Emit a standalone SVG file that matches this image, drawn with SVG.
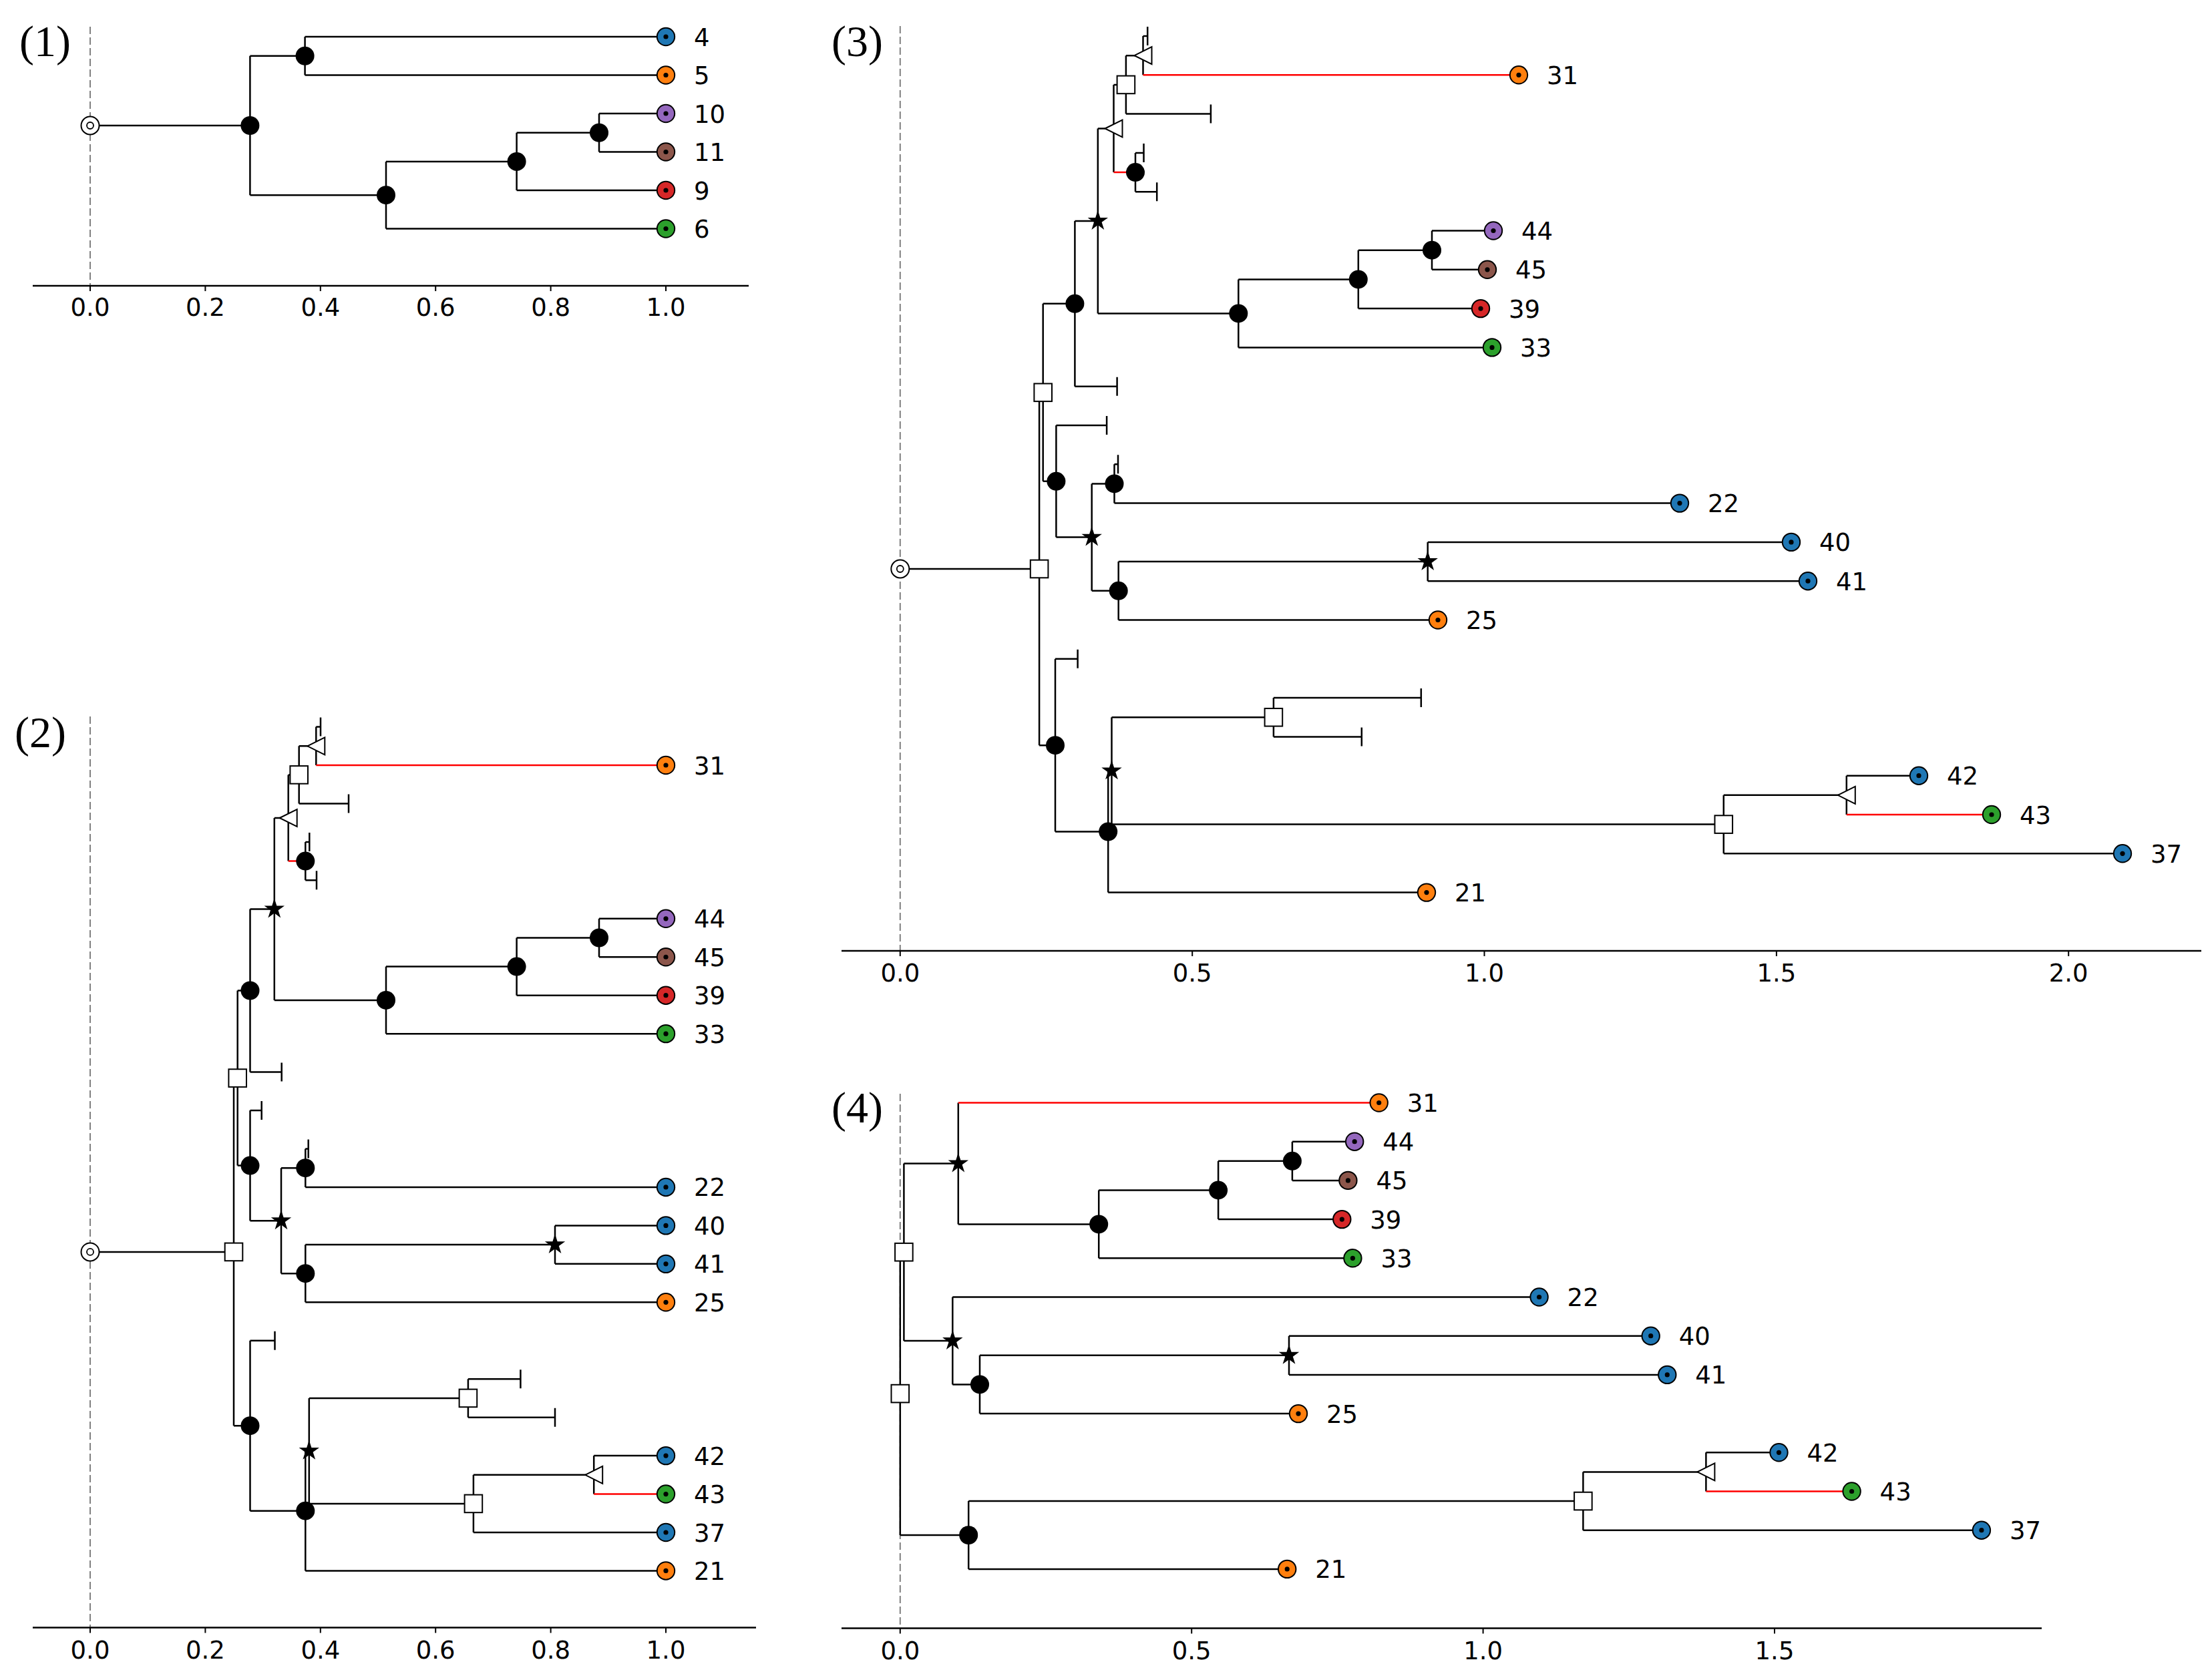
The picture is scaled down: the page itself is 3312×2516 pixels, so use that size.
<svg xmlns="http://www.w3.org/2000/svg" xmlns:xlink="http://www.w3.org/1999/xlink" width="3312" height="2516" viewBox="0 0 3312 2516">
<style>
.e{fill:none;stroke:#000;stroke-width:2.5}
.r{fill:none;stroke:#ff0000;stroke-width:2.5}
.dash{fill:none;stroke:#808080;stroke-width:2;stroke-dasharray:11 5}
.ax{fill:none;stroke:#000;stroke-width:2.5}
.tk{fill:none;stroke:#000;stroke-width:2}
.tl{font-family:"DejaVu Sans",sans-serif;font-size:37px;text-anchor:middle;fill:#000}
.lb{font-family:"DejaVu Sans",sans-serif;font-size:37px;fill:#000}
.pn{font-family:"Liberation Serif","Times New Roman",serif;font-size:66px;fill:#000}
</style>
<defs>
<circle id="dot" r="14" fill="#000"/>
<rect id="sq" x="-13.3" y="-13.3" width="26.6" height="26.6" fill="#fff" stroke="#000" stroke-width="2"/>
<polygon id="tri" points="-13,0 13,-13 13,13" fill="#fff" stroke="#000" stroke-width="2"/>
<path id="star" d="M0,-16L3.6,-4.94L15.22,-4.94L5.81,1.89L9.4,12.94L0,6.11L-9.4,12.94L-5.81,1.89L-15.22,-4.94L-3.6,-4.94Z" fill="#000"/>
<g id="root"><circle r="13.5" fill="#fff" stroke="#000" stroke-width="2"/><circle r="5" fill="#fff" stroke="#000" stroke-width="1.8"/></g>
<g id="leaf"><circle r="13.2" stroke="#000" stroke-width="2"/><circle r="3.6" fill="#000"/></g>
</defs>
<rect width="3312" height="2516" fill="#fff"/>

<!-- ========== PANEL 1 ========== -->
<g id="panel1">
<text class="pn" x="29" y="84">(1)</text>
<line class="dash" x1="135" y1="40" x2="135" y2="428"/>
<g id="p1-axis">
<line class="ax" x1="49" y1="428" x2="1121" y2="428"/>
<path class="tk" d="M135,428v8M307.4,428v8M479.8,428v8M652.2,428v8M824.6,428v8M997,428v8"/>
<text class="tl" x="135" y="473">0.0</text><text class="tl" x="307.4" y="473">0.2</text><text class="tl" x="479.8" y="473">0.4</text><text class="tl" x="652.2" y="473">0.6</text><text class="tl" x="824.6" y="473">0.8</text><text class="tl" x="997" y="473">1.0</text>
</g>
<g id="p1-edges">
<path class="e" d="M135,188H374.4M374.4,83.75V292.2M374.4,83.75H456.6M374.4,292.2H578M456.6,55V112.5M456.6,55H997M456.6,112.5H997M578,241.9V342.5M578,241.9H773.6M578,342.5H997M773.6,198.75V285M773.6,198.75H897M773.6,285H997M897,170V227.5M897,170H997M897,227.5H997"/>
</g>
<g id="p1-root"><use xlink:href="#root" x="135" y="188"/></g>
<g id="p1-n1"><use xlink:href="#dot" x="374.4" y="188"/></g>
<g id="p1-n2"><use xlink:href="#dot" x="456.6" y="83.75"/></g>
<g id="p1-n3"><use xlink:href="#dot" x="578" y="292.2"/></g>
<g id="p1-n4"><use xlink:href="#dot" x="773.6" y="241.9"/></g>
<g id="p1-n5"><use xlink:href="#dot" x="897" y="198.75"/></g>
<g id="p1-leaf4"><use xlink:href="#leaf" x="997" y="55" fill="#1f77b4"/><text class="lb" x="1039" y="68.5">4</text></g>
<g id="p1-leaf5"><use xlink:href="#leaf" x="997" y="112.5" fill="#ff7f0e"/><text class="lb" x="1039" y="126">5</text></g>
<g id="p1-leaf10"><use xlink:href="#leaf" x="997" y="170" fill="#9467bd"/><text class="lb" x="1039" y="183.5">10</text></g>
<g id="p1-leaf11"><use xlink:href="#leaf" x="997" y="227.5" fill="#8c564b"/><text class="lb" x="1039" y="241">11</text></g>
<g id="p1-leaf9"><use xlink:href="#leaf" x="997" y="285" fill="#d62728"/><text class="lb" x="1039" y="298.5">9</text></g>
<g id="p1-leaf6"><use xlink:href="#leaf" x="997" y="342.5" fill="#2ca02c"/><text class="lb" x="1039" y="356">6</text></g>
</g>

<!-- ========== PANEL 2 ========== -->
<g id="panel2">
<text class="pn" x="22" y="1119">(2)</text>
<line class="dash" x1="135" y1="1073" x2="135" y2="2437.5"/>
<g id="p2-axis">
<line class="ax" x1="49" y1="2437.5" x2="1132" y2="2437.5"/>
<path class="tk" d="M135,2437.5v8M307.4,2437.5v8M479.8,2437.5v8M652.2,2437.5v8M824.6,2437.5v8M997,2437.5v8"/>
<text class="tl" x="135" y="2484">0.0</text><text class="tl" x="307.4" y="2484">0.2</text><text class="tl" x="479.8" y="2484">0.4</text><text class="tl" x="652.2" y="2484">0.6</text><text class="tl" x="824.6" y="2484">0.8</text><text class="tl" x="997" y="2484">1.0</text>
</g>
<g id="p2-edges">
<path class="e" d="M135,1874.9H350M350,1614.55V2135.2M350,1614.55H355.7M350,2135.2H374.5
M355.7,1483.5V1745.6M355.7,1483.5H374.5M355.7,1745.6H374.5
M374.5,1361.45V1605.6M374.5,1361.45H410.8M374.5,1605.6H421.7M421.7,1591.6V1619.6
M410.8,1225V1497.9M410.8,1225H431.7M410.8,1497.9H578
M431.7,1160.4V1289.6M431.7,1160.4H447.7
M447.7,1117.3V1203.45M447.7,1117.3H473.3M447.7,1203.45H522M522,1189.45V1217.45
M473.3,1088.55V1146M473.3,1088.55H480M480,1074.55V1102.55
M457.3,1260.9V1318.35M457.3,1260.9H463.3M463.3,1246.9V1274.9M457.3,1318.35H474M474,1304.35V1332.35
M578,1447.6V1548.15M578,1447.6H773.6M578,1548.15H997
M773.6,1404.5V1490.7M773.6,1404.5H897M773.6,1490.7H997
M897,1375.8V1433.25M897,1375.8H997M897,1433.25H997
M374.5,1663.05V1828.2M374.5,1663.05H391.7M391.7,1649.05V1677.05M374.5,1828.2H421
M421,1749.2V1907.2M421,1749.2H457.3M421,1907.2H457.3
M457.3,1720.5V1777.95M457.3,1720.5H461.7M461.7,1706.5V1734.5M457.3,1777.95H997
M457.3,1864.1V1950.3M457.3,1864.1H831M457.3,1950.3H997
M831,1835.4V1892.85M831,1835.4H997M831,1892.85H997
M374.5,2007.75V2262.7M374.5,2007.75H411.5M411.5,1993.75V2021.75M374.5,2262.7H457.3
M457.3,2172.9V2352.45M457.3,2172.9H462.8M457.3,2352.45H997
M462.8,2093.9V2251.9M462.8,2093.9H700.9M462.8,2251.9H708.9
M700.9,2065.2V2122.65M700.9,2065.2H779.4M779.4,2051.2V2079.2M700.9,2122.65H831M831,2108.65V2136.65
M708.9,2208.8V2295M708.9,2208.8H889.2M708.9,2295H997
M889.2,2180.1V2237.55M889.2,2180.1H997"/>
<path class="r" d="M431.7,1289.6H457.3M473.3,1146H997M889.2,2237.55H997"/>
</g>
<g id="p2-root"><use xlink:href="#root" x="135" y="1874.9"/></g>
<g id="p2-S1"><use xlink:href="#sq" x="350" y="1874.9"/></g>
<g id="p2-S2"><use xlink:href="#sq" x="355.7" y="1614.55"/></g>
<g id="p2-P"><use xlink:href="#dot" x="374.5" y="1483.5"/></g>
<g id="p2-St1"><use xlink:href="#star" x="410.8" y="1361.45"/></g>
<g id="p2-T1"><use xlink:href="#tri" x="431.7" y="1225"/></g>
<g id="p2-S3"><use xlink:href="#sq" x="447.7" y="1160.4"/></g>
<g id="p2-T2"><use xlink:href="#tri" x="473.3" y="1117.3"/></g>
<g id="p2-B2"><use xlink:href="#dot" x="457.3" y="1289.6"/></g>
<g id="p2-K"><use xlink:href="#dot" x="578" y="1497.9"/></g>
<g id="p2-K2"><use xlink:href="#dot" x="773.6" y="1447.6"/></g>
<g id="p2-K3"><use xlink:href="#dot" x="897" y="1404.5"/></g>
<g id="p2-Q"><use xlink:href="#dot" x="374.5" y="1745.6"/></g>
<g id="p2-St2"><use xlink:href="#star" x="421" y="1828.2"/></g>
<g id="p2-B3"><use xlink:href="#dot" x="457.3" y="1749.2"/></g>
<g id="p2-B4"><use xlink:href="#dot" x="457.3" y="1907.2"/></g>
<g id="p2-St3"><use xlink:href="#star" x="831" y="1864.1"/></g>
<g id="p2-L"><use xlink:href="#dot" x="374.5" y="2135.2"/></g>
<g id="p2-M"><use xlink:href="#dot" x="457.3" y="2262.7"/></g>
<g id="p2-St4"><use xlink:href="#star" x="462.8" y="2172.9"/></g>
<g id="p2-S4"><use xlink:href="#sq" x="700.9" y="2093.9"/></g>
<g id="p2-S5"><use xlink:href="#sq" x="708.9" y="2251.9"/></g>
<g id="p2-T3"><use xlink:href="#tri" x="889.2" y="2208.8"/></g>
<g id="p2-leaf31"><use xlink:href="#leaf" x="997" y="1146" fill="#ff7f0e"/><text class="lb" x="1039" y="1159.5">31</text></g>
<g id="p2-leaf44"><use xlink:href="#leaf" x="997" y="1375.8" fill="#9467bd"/><text class="lb" x="1039" y="1389.3">44</text></g>
<g id="p2-leaf45"><use xlink:href="#leaf" x="997" y="1433.25" fill="#8c564b"/><text class="lb" x="1039" y="1446.75">45</text></g>
<g id="p2-leaf39"><use xlink:href="#leaf" x="997" y="1490.7" fill="#d62728"/><text class="lb" x="1039" y="1504.2">39</text></g>
<g id="p2-leaf33"><use xlink:href="#leaf" x="997" y="1548.15" fill="#2ca02c"/><text class="lb" x="1039" y="1561.65">33</text></g>
<g id="p2-leaf22"><use xlink:href="#leaf" x="997" y="1777.95" fill="#1f77b4"/><text class="lb" x="1039" y="1791.45">22</text></g>
<g id="p2-leaf40"><use xlink:href="#leaf" x="997" y="1835.4" fill="#1f77b4"/><text class="lb" x="1039" y="1848.9">40</text></g>
<g id="p2-leaf41"><use xlink:href="#leaf" x="997" y="1892.85" fill="#1f77b4"/><text class="lb" x="1039" y="1906.35">41</text></g>
<g id="p2-leaf25"><use xlink:href="#leaf" x="997" y="1950.3" fill="#ff7f0e"/><text class="lb" x="1039" y="1963.8">25</text></g>
<g id="p2-leaf42"><use xlink:href="#leaf" x="997" y="2180.1" fill="#1f77b4"/><text class="lb" x="1039" y="2193.6">42</text></g>
<g id="p2-leaf43"><use xlink:href="#leaf" x="997" y="2237.55" fill="#2ca02c"/><text class="lb" x="1039" y="2251.05">43</text></g>
<g id="p2-leaf37"><use xlink:href="#leaf" x="997" y="2295" fill="#1f77b4"/><text class="lb" x="1039" y="2308.5">37</text></g>
<g id="p2-leaf21"><use xlink:href="#leaf" x="997" y="2352.45" fill="#ff7f0e"/><text class="lb" x="1039" y="2365.95">21</text></g>
</g>

<!-- ========== PANEL 3 ========== -->
<g id="panel3">
<text class="pn" x="1245" y="84">(3)</text>
<line class="dash" x1="1347.8" y1="39" x2="1347.8" y2="1424"/>
<g id="p3-axis">
<line class="ax" x1="1260" y1="1424" x2="3296" y2="1424"/>
<path class="tk" d="M1347.8,1424v8M1785.2,1424v8M2222.5,1424v8M2659.9,1424v8M3097.2,1424v8"/>
<text class="tl" x="1347.8" y="1470">0.0</text><text class="tl" x="1785.2" y="1470">0.5</text><text class="tl" x="2222.5" y="1470">1.0</text><text class="tl" x="2659.9" y="1470">1.5</text><text class="tl" x="3097.2" y="1470">2.0</text>
</g>
<g id="p3-edges">
<path class="e" d="M1347.8,852H1556.1M1556.1,587.8V1116.2M1556.1,587.8H1561.7M1556.1,1116.2H1580
M1561.7,454.8V720.8M1561.7,454.8H1609.4M1561.7,720.8H1581.4
M1609.4,330.95V578.7M1609.4,330.95H1643.8M1609.4,578.7H1672.6M1672.6,564.7V592.7
M1643.8,192.5V469.4M1643.8,192.5H1667.5M1643.8,469.4H1854.3
M1667.5,126.9V258.05M1667.5,126.9H1685.9
M1685.9,83.15V170.6M1685.9,83.15H1711.5M1685.9,170.6H1812.9M1812.9,156.6V184.6
M1711.5,54V112.3M1711.5,54H1718.2M1718.2,40V68
M1700,228.9V287.2M1700,228.9H1712.5M1712.5,214.9V242.9M1700,287.2H1732.2M1732.2,273.2V301.2
M1854.3,418.4V520.4M1854.3,418.4H2033.8M1854.3,520.4H2234
M2033.8,374.65V462.1M2033.8,374.65H2144M2033.8,462.1H2217
M2144,345.5V403.8M2144,345.5H2236M2144,403.8H2227
M1581.4,637V804.6M1581.4,637H1657.1M1657.1,623V651M1581.4,804.6H1634.7
M1634.7,724.45V884.8M1634.7,724.45H1668.5M1634.7,884.8H1674.7
M1668.5,695.3V753.6M1668.5,695.3H1674M1674,681.3V709.3M1668.5,753.6H2515
M1674.7,841.05V928.5M1674.7,841.05H2137.7M1674.7,928.5H2153
M2137.7,811.9V870.2M2137.7,811.9H2682M2137.7,870.2H2707
M1580,986.8V1245.5M1580,986.8H1613.6M1613.6,972.8V1000.8M1580,1245.5H1659.2
M1659.2,1154.4V1336.6M1659.2,1154.4H1664.5M1659.2,1336.6H2136
M1664.5,1074.25V1234.6M1664.5,1074.25H1906.9M1664.5,1234.6H2580.8
M1906.9,1045.1V1103.4M1906.9,1045.1H2127.8M2127.8,1031.1V1059.1M1906.9,1103.4H2038.8M2038.8,1089.4V1117.4
M2580.8,1190.85V1278.3M2580.8,1190.85H2764.8M2580.8,1278.3H3178
M2764.8,1161.7V1220M2764.8,1161.7H2873"/>
<path class="r" d="M1667.5,258.05H1700M1711.5,112.3H2274M2764.8,1220H2982"/>
</g>
<g id="p3-root"><use xlink:href="#root" x="1347.8" y="852"/></g>
<g id="p3-S1"><use xlink:href="#sq" x="1556.1" y="852"/></g>
<g id="p3-S2"><use xlink:href="#sq" x="1561.7" y="587.8"/></g>
<g id="p3-P"><use xlink:href="#dot" x="1609.4" y="454.8"/></g>
<g id="p3-St1"><use xlink:href="#star" x="1643.8" y="330.95"/></g>
<g id="p3-T1"><use xlink:href="#tri" x="1667.5" y="192.5"/></g>
<g id="p3-S3"><use xlink:href="#sq" x="1685.9" y="126.9"/></g>
<g id="p3-T2"><use xlink:href="#tri" x="1711.5" y="83.15"/></g>
<g id="p3-B2"><use xlink:href="#dot" x="1700" y="258.05"/></g>
<g id="p3-K"><use xlink:href="#dot" x="1854.3" y="469.4"/></g>
<g id="p3-K2"><use xlink:href="#dot" x="2033.8" y="418.4"/></g>
<g id="p3-K3"><use xlink:href="#dot" x="2144" y="374.65"/></g>
<g id="p3-Q"><use xlink:href="#dot" x="1581.4" y="720.8"/></g>
<g id="p3-St2"><use xlink:href="#star" x="1634.7" y="804.6"/></g>
<g id="p3-B3"><use xlink:href="#dot" x="1668.5" y="724.45"/></g>
<g id="p3-B4"><use xlink:href="#dot" x="1674.7" y="884.8"/></g>
<g id="p3-St3"><use xlink:href="#star" x="2137.7" y="841.05"/></g>
<g id="p3-L"><use xlink:href="#dot" x="1580" y="1116.2"/></g>
<g id="p3-M"><use xlink:href="#dot" x="1659.2" y="1245.5"/></g>
<g id="p3-St4"><use xlink:href="#star" x="1664.5" y="1154.4"/></g>
<g id="p3-S4"><use xlink:href="#sq" x="1906.9" y="1074.25"/></g>
<g id="p3-S5"><use xlink:href="#sq" x="2580.8" y="1234.6"/></g>
<g id="p3-T3"><use xlink:href="#tri" x="2764.8" y="1190.85"/></g>
<g id="p3-leaf31"><use xlink:href="#leaf" x="2274" y="112.3" fill="#ff7f0e"/><text class="lb" x="2316" y="125.8">31</text></g>
<g id="p3-leaf44"><use xlink:href="#leaf" x="2236" y="345.5" fill="#9467bd"/><text class="lb" x="2278" y="359">44</text></g>
<g id="p3-leaf45"><use xlink:href="#leaf" x="2227" y="403.8" fill="#8c564b"/><text class="lb" x="2269" y="417.3">45</text></g>
<g id="p3-leaf39"><use xlink:href="#leaf" x="2217" y="462.1" fill="#d62728"/><text class="lb" x="2259" y="475.6">39</text></g>
<g id="p3-leaf33"><use xlink:href="#leaf" x="2234" y="520.4" fill="#2ca02c"/><text class="lb" x="2276" y="533.9">33</text></g>
<g id="p3-leaf22"><use xlink:href="#leaf" x="2515" y="753.6" fill="#1f77b4"/><text class="lb" x="2557" y="767.1">22</text></g>
<g id="p3-leaf40"><use xlink:href="#leaf" x="2682" y="811.9" fill="#1f77b4"/><text class="lb" x="2724" y="825.4">40</text></g>
<g id="p3-leaf41"><use xlink:href="#leaf" x="2707" y="870.2" fill="#1f77b4"/><text class="lb" x="2749" y="883.7">41</text></g>
<g id="p3-leaf25"><use xlink:href="#leaf" x="2153" y="928.5" fill="#ff7f0e"/><text class="lb" x="2195" y="942">25</text></g>
<g id="p3-leaf42"><use xlink:href="#leaf" x="2873" y="1161.7" fill="#1f77b4"/><text class="lb" x="2915" y="1175.2">42</text></g>
<g id="p3-leaf43"><use xlink:href="#leaf" x="2982" y="1220" fill="#2ca02c"/><text class="lb" x="3024" y="1233.5">43</text></g>
<g id="p3-leaf37"><use xlink:href="#leaf" x="3178" y="1278.3" fill="#1f77b4"/><text class="lb" x="3220" y="1291.8">37</text></g>
<g id="p3-leaf21"><use xlink:href="#leaf" x="2136" y="1336.6" fill="#ff7f0e"/><text class="lb" x="2178" y="1350.1">21</text></g>
</g>

<!-- ========== PANEL 4 ========== -->
<g id="panel4">
<text class="pn" x="1245" y="1681">(4)</text>
<line class="dash" x1="1347.8" y1="1638" x2="1347.8" y2="2438.5"/>
<g id="p4-axis">
<line class="ax" x1="1260" y1="2438.5" x2="3057" y2="2438.5"/>
<path class="tk" d="M1347.8,2438.5v8M1784.2,2438.5v8M2220.6,2438.5v8M2657,2438.5v8"/>
<text class="tl" x="1347.8" y="2484.5">0.0</text><text class="tl" x="1784.2" y="2484.5">0.5</text><text class="tl" x="2220.6" y="2484.5">1.0</text><text class="tl" x="2657" y="2484.5">1.5</text>
</g>
<g id="p4-edges">
<path class="e" d="M1347.8,1875.2V2299M1347.8,1875.2H1353.4M1347.8,2299H1450.2
M1353.4,1742.45V2008M1353.4,1742.45H1434.8M1353.4,2008H1426.3
M1434.8,1651.5V1833.4M1434.8,1833.4H1645.2
M1645.2,1782.45V1884.3M1645.2,1782.45H1824.1M1645.2,1884.3H2025.4
M1824.1,1738.8V1826.1M1824.1,1738.8H1934.9M1824.1,1826.1H2009.3
M1934.9,1709.7V1767.9M1934.9,1709.7H2028.2M1934.9,1767.9H2018.4
M1426.3,1942.5V2073.45M1426.3,1942.5H2304.6M1426.3,2073.45H1467
M1467,2029.8V2117.1M1467,2029.8H1930M1467,2117.1H1944
M1930,2000.7V2058.9M1930,2000.7H2471.7M1930,2058.9H2496.3
M1450.2,2248.05V2349.9M1450.2,2248.05H2370.4M1450.2,2349.9H1927.2
M2370.4,2204.4V2291.7M2370.4,2204.4H2554.4M2370.4,2291.7H2966.9
M2554.4,2175.3V2233.5M2554.4,2175.3H2663.5"/>
<path class="r" d="M1434.8,1651.5H2064.7M2554.4,2233.5H2772.6"/>
</g>
<g id="p4-SB"><use xlink:href="#sq" x="1347.8" y="2087.1"/></g>
<g id="p4-SA"><use xlink:href="#sq" x="1353.4" y="1875.2"/></g>
<g id="p4-StA"><use xlink:href="#star" x="1434.8" y="1742.45"/></g>
<g id="p4-K"><use xlink:href="#dot" x="1645.2" y="1833.4"/></g>
<g id="p4-K2"><use xlink:href="#dot" x="1824.1" y="1782.45"/></g>
<g id="p4-K3"><use xlink:href="#dot" x="1934.9" y="1738.8"/></g>
<g id="p4-StB"><use xlink:href="#star" x="1426.3" y="2008"/></g>
<g id="p4-B5"><use xlink:href="#dot" x="1467" y="2073.45"/></g>
<g id="p4-StC"><use xlink:href="#star" x="1930" y="2029.8"/></g>
<g id="p4-L"><use xlink:href="#dot" x="1450.2" y="2299"/></g>
<g id="p4-S5"><use xlink:href="#sq" x="2370.4" y="2248.05"/></g>
<g id="p4-T3"><use xlink:href="#tri" x="2554.4" y="2204.4"/></g>
<g id="p4-leaf31"><use xlink:href="#leaf" x="2064.7" y="1651.5" fill="#ff7f0e"/><text class="lb" x="2106.7" y="1665">31</text></g>
<g id="p4-leaf44"><use xlink:href="#leaf" x="2028.2" y="1709.7" fill="#9467bd"/><text class="lb" x="2070.2" y="1723.2">44</text></g>
<g id="p4-leaf45"><use xlink:href="#leaf" x="2018.4" y="1767.9" fill="#8c564b"/><text class="lb" x="2060.4" y="1781.4">45</text></g>
<g id="p4-leaf39"><use xlink:href="#leaf" x="2009.3" y="1826.1" fill="#d62728"/><text class="lb" x="2051.3" y="1839.6">39</text></g>
<g id="p4-leaf33"><use xlink:href="#leaf" x="2025.4" y="1884.3" fill="#2ca02c"/><text class="lb" x="2067.4" y="1897.8">33</text></g>
<g id="p4-leaf22"><use xlink:href="#leaf" x="2304.6" y="1942.5" fill="#1f77b4"/><text class="lb" x="2346.6" y="1956">22</text></g>
<g id="p4-leaf40"><use xlink:href="#leaf" x="2471.7" y="2000.7" fill="#1f77b4"/><text class="lb" x="2513.7" y="2014.2">40</text></g>
<g id="p4-leaf41"><use xlink:href="#leaf" x="2496.3" y="2058.9" fill="#1f77b4"/><text class="lb" x="2538.3" y="2072.4">41</text></g>
<g id="p4-leaf25"><use xlink:href="#leaf" x="1944" y="2117.1" fill="#ff7f0e"/><text class="lb" x="1986" y="2130.6">25</text></g>
<g id="p4-leaf42"><use xlink:href="#leaf" x="2663.5" y="2175.3" fill="#1f77b4"/><text class="lb" x="2705.5" y="2188.8">42</text></g>
<g id="p4-leaf43"><use xlink:href="#leaf" x="2772.6" y="2233.5" fill="#2ca02c"/><text class="lb" x="2814.6" y="2247">43</text></g>
<g id="p4-leaf37"><use xlink:href="#leaf" x="2966.9" y="2291.7" fill="#1f77b4"/><text class="lb" x="3008.9" y="2305.2">37</text></g>
<g id="p4-leaf21"><use xlink:href="#leaf" x="1927.2" y="2349.9" fill="#ff7f0e"/><text class="lb" x="1969.2" y="2363.4">21</text></g>
</g>
</svg>
